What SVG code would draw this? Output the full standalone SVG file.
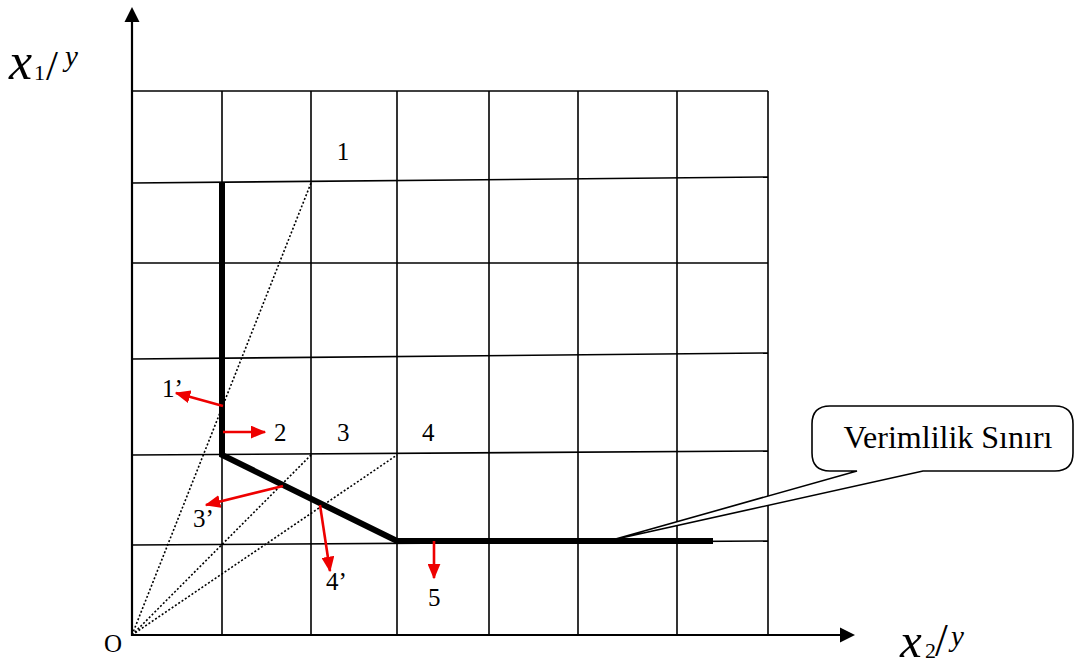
<svg xmlns="http://www.w3.org/2000/svg" width="1076" height="668" viewBox="0 0 1076 668">
<style>
.g{stroke:#000;stroke-width:1.6;fill:none}
.ax{stroke:#000;stroke-width:2.2;fill:none}
.dot{stroke:#000;stroke-width:1.6;stroke-dasharray:2 2;fill:none}
.thick{stroke:#000;stroke-width:6;fill:none;stroke-linejoin:miter}
.ra{stroke:#e00;stroke-width:2.6;fill:none;marker-end:url(#rh)}
.t{font-family:"Liberation Serif","Times New Roman",serif;font-size:25px;fill:#000}
.it{font-family:"Liberation Serif","Times New Roman",serif;font-style:italic;fill:#000}
.rm{font-family:"Liberation Serif","Times New Roman",serif;fill:#000}
</style>
<defs>
<marker id="rh" markerWidth="6" markerHeight="5" refX="5.5" refY="2.5" orient="auto" markerUnits="strokeWidth">
<path d="M0,0 L6,2.5 L0,5 Z" fill="#e00"/>
</marker>
</defs>
<g id="grid">
<line class="g" x1="132" y1="91" x2="768" y2="91"/>
<line class="g" x1="132" y1="183" x2="768" y2="177"/>
<line class="g" x1="132" y1="263" x2="768" y2="263"/>
<line class="g" x1="132" y1="359" x2="768" y2="353"/>
<line class="g" x1="132" y1="455" x2="768" y2="451"/>
<line class="g" x1="132" y1="545" x2="768" y2="541"/>
<line class="g" x1="222" y1="91" x2="222" y2="635"/>
<line class="g" x1="311" y1="91" x2="311" y2="635"/>
<line class="g" x1="397" y1="91" x2="397" y2="635"/>
<line class="g" x1="489" y1="91" x2="489" y2="635"/>
<line class="g" x1="578" y1="91" x2="578" y2="635"/>
<line class="g" x1="677" y1="91" x2="677" y2="635"/>
<line class="g" x1="768" y1="91" x2="768" y2="635"/>
</g>
<g id="axes">
<line class="ax" x1="132" y1="636" x2="132" y2="18"/>
<path d="M132,7 L139.5,22 L124.5,22 Z" fill="#000"/>
<line class="ax" x1="131" y1="635" x2="842" y2="635"/>
<path d="M855,635 L840,627.5 L840,642.5 Z" fill="#000"/>
</g>
<g id="connectors">
<line class="dot" x1="132" y1="635" x2="311" y2="183"/>
<line class="dot" x1="132" y1="635" x2="311" y2="455"/>
<line class="dot" x1="132" y1="635" x2="397" y2="455"/>
<path class="thick" d="M222,183 L222,455 L397,541 L713,541"/>
<line class="ra" x1="223" y1="406" x2="176" y2="393"/>
<line class="ra" x1="223" y1="432" x2="265" y2="432"/>
<line class="ra" x1="283" y1="486" x2="206" y2="505"/>
<line class="ra" x1="320" y1="505" x2="330" y2="571"/>
<line class="ra" x1="434" y1="541" x2="434" y2="578"/>
</g>
<g id="labels">
<text class="t" x="343" y="160" text-anchor="middle">1</text>
<text class="t" x="162" y="397">1’</text>
<text class="t" x="274" y="441">2</text>
<text class="t" x="337" y="441">3</text>
<text class="t" x="422" y="441">4</text>
<text class="t" x="193" y="527">3’</text>
<text class="t" x="326" y="590">4’</text>
<text class="t" x="428" y="606">5</text>
<text class="t" x="104" y="652">O</text>
</g>
<g id="axis-y-label">
<text class="it" x="9" y="79" font-size="52">x</text>
<text class="rm" x="34" y="80" font-size="22">1</text>
<text class="rm" x="46" y="80" font-size="43">/</text>
<text class="it" x="65" y="66" font-size="29">y</text>
</g>
<g id="axis-x-label">
<text class="it" x="900" y="657" font-size="49">x</text>
<text class="rm" x="925" y="658" font-size="22">2</text>
<text class="rm" x="935" y="656" font-size="46">/</text>
<text class="it" x="951" y="646" font-size="29">y</text>
</g>
<g id="callout">
<path d="M830,406 L1055,406 Q1073,406 1073,424 L1073,453 Q1073,471 1055,471 L923,471 L612,540 L857,471 L830,471 Q812,471 812,453 L812,424 Q812,406 830,406 Z" fill="#fff" stroke="#000" stroke-width="1.6"/>
<text class="rm" x="948" y="448" font-size="32" text-anchor="middle">Verimlilik Sınırı</text>
</g>
</svg>
